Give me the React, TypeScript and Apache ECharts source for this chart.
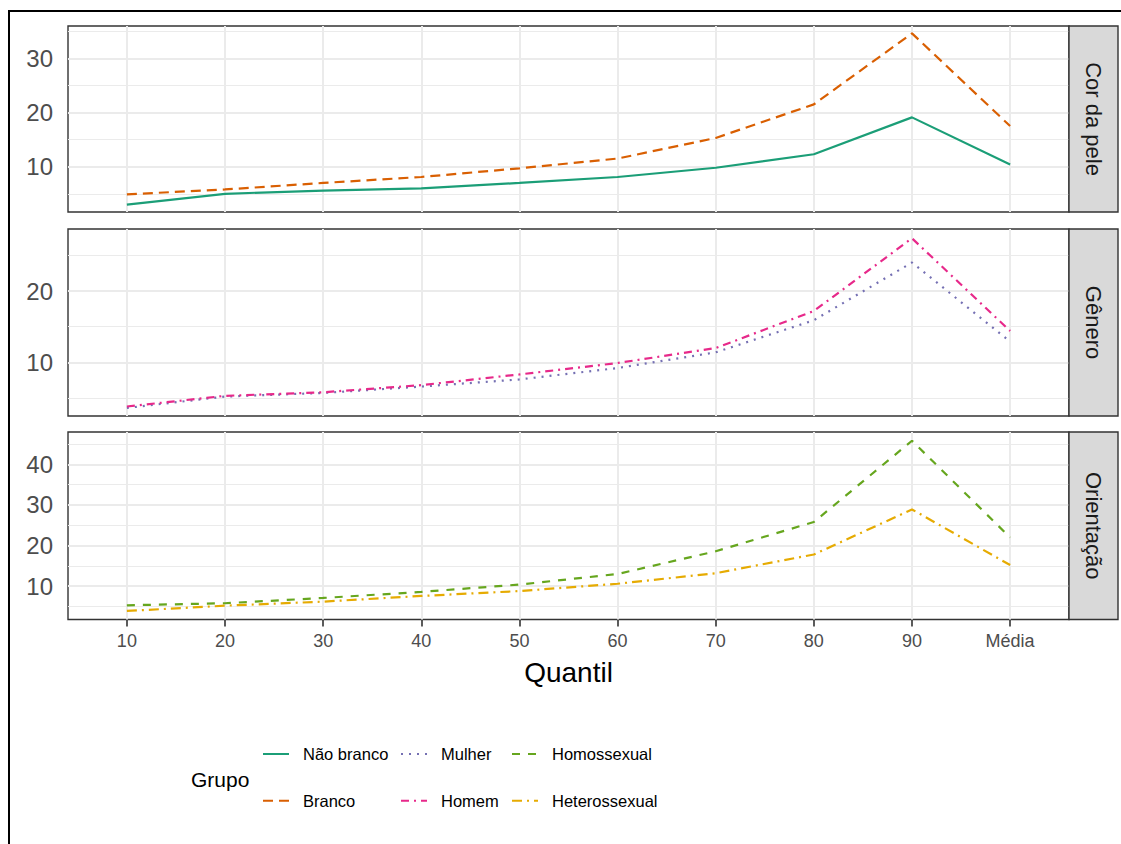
import React, { useEffect, useRef } from 'react';
import * as echarts from 'echarts';

const quantis = ['10', '20', '30', '40', '50', '60', '70', '80', '90', 'Média'];

const naoBranco = [3.0, 5.0, 5.6, 6.0, 7.0, 8.1, 9.8, 12.3, 19.1, 10.4];
const branco = [4.9, 5.8, 7.0, 8.1, 9.7, 11.5, 15.3, 21.5, 34.6, 17.5];
const mulher = [3.6, 5.2, 5.7, 6.6, 7.6, 9.2, 11.4, 15.9, 24.0, 12.9];
const homem = [3.8, 5.3, 5.8, 6.8, 8.3, 9.9, 12.0, 17.2, 27.4, 14.4];
const homossexual = [5.3, 5.8, 7.1, 8.6, 10.4, 13.0, 18.6, 25.8, 45.8, 22.0];
const heterossexual = [3.9, 5.2, 6.2, 7.6, 8.8, 10.6, 13.2, 17.8, 28.9, 15.2];

const facetas = ['Cor da pele', 'Gênero', 'Orientação'];
const majorTicks = [[10, 20, 30], [10, 20], [10, 20, 30, 40]];
const minorTicks = [[5, 15, 25, 35], [5, 15, 25], [5, 15, 25, 35, 45]];
const yRanges = [[1.64, 35.96], [2.47, 28.7], [1.8, 47.96]];

const FONT = '"Liberation Sans", Arial, Helvetica, sans-serif';

export default function App() {
  const ref = useRef<HTMLDivElement>(null);
  useEffect(() => {
    const chart = echarts.init(ref.current!, null, { renderer: 'svg' });
    const plotLeft = 68;
    const plotRight = 1069;
    const panelPos = [
      { top: 26, height: 186 },
      { top: 229, height: 187 },
      { top: 432, height: 187.5 },
    ];
    const xIdx = quantis.map((_, i) => i);
    const grids = panelPos.map((p) => ({
      left: plotLeft,
      width: plotRight - plotLeft,
      top: p.top,
      height: p.height,
      show: true,
      backgroundColor: '#ffffff',
      borderColor: '#333333',
      borderWidth: 1.4,
      z: 0,
    }));
    const xAxes = panelPos.map((_, k) => ({
      type: 'value',
      gridIndex: k,
      min: -0.6,
      max: 9.6,
      axisLine: { show: false },
      splitLine: { show: false },
      axisTick: {
        show: k === 2,
        customValues: xIdx,
        length: 7,
        lineStyle: { color: '#333333', width: 1.6 },
      },
      axisLabel: {
        show: k === 2,
        customValues: xIdx,
        formatter: (v: number) => quantis[Math.round(v)] ?? '',
        color: '#4d4d4d',
        fontSize: 18,
        fontFamily: FONT,
        margin: 12,
      },
    }));
    const yAxes = panelPos.map((_, k) => ({
      type: 'value',
      gridIndex: k,
      min: yRanges[k][0],
      max: yRanges[k][1],
      axisLine: { show: false },
      splitLine: { show: false },
      axisTick: {
        show: true,
        customValues: majorTicks[k],
        length: 7,
        lineStyle: { color: '#333333', width: 1.6 },
      },
      axisLabel: {
        show: true,
        customValues: majorTicks[k],
        color: '#4d4d4d',
        fontSize: 24,
        fontFamily: FONT,
        margin: 15,
      },
    }));
    const gridSeries = panelPos.map((_, k) => ({
      type: 'line',
      name: '__grid' + k,
      xAxisIndex: k,
      yAxisIndex: k,
      data: [],
      silent: true,
      z: 1,
      markLine: {
        silent: true,
        z: 1,
        symbol: ['none', 'none'],
        label: { show: false },
        emphasis: { disabled: true },
        lineStyle: { color: '#ebebeb', type: 'solid', width: 1 },
        data: [
          ...minorTicks[k].map((v) => ({ yAxis: v, lineStyle: { color: '#ebebeb', width: 1, type: 'solid' } })),
          ...majorTicks[k].map((v) => ({ yAxis: v, lineStyle: { color: '#ebebeb', width: 2, type: 'solid' } })),
          ...xIdx.map((v) => ({ xAxis: v, lineStyle: { color: '#ebebeb', width: 2, type: 'solid' } })),
        ],
      },
    }));
    const mk = (name: string, vals: number[], k: number, color: string, type: any) => ({
      type: 'line',
      name,
      xAxisIndex: k,
      yAxisIndex: k,
      data: vals.map((v, i) => [i, v]),
      symbol: 'none',
      showSymbol: false,
      z: 3,
      color,
      lineStyle: { color, width: 2.2, type },
      emphasis: { disabled: true },
    });
    const series = [
      ...gridSeries,
      mk('Não branco', naoBranco, 0, '#1B9E77', 'solid'),
      mk('Branco', branco, 0, '#D95F02', [10, 6]),
      mk('Mulher', mulher, 1, '#7570B3', [2, 6]),
      mk('Homem', homem, 1, '#E7298A', [8, 5, 2, 5]),
      mk('Homossexual', homossexual, 2, '#66A61E', [8, 8]),
      mk('Heterossexual', heterossexual, 2, '#E6AB02', [10, 5, 2, 5]),
    ];
    const legendBase = {
      orient: 'vertical',
      top: 745.5,
      padding: 0,
      itemWidth: 26,
      itemHeight: 17,
      itemGap: 29.7,
      selectedMode: false,
      itemStyle: { color: 'rgba(0,0,0,0)', borderColor: 'rgba(0,0,0,0)', borderWidth: 0, opacity: 0 },
      textStyle: { fontSize: 16.5, fontFamily: FONT, color: '#000', lineHeight: 17, padding: [0, 0, 0, 9] },
    };
    const legends = [
      { ...legendBase, left: 262, data: ['Não branco', 'Branco'] },
      { ...legendBase, left: 400, data: ['Mulher', 'Homem'] },
      { ...legendBase, left: 511, data: ['Homossexual', 'Heterossexual'] },
    ];
    const graphics: any[] = [];
    panelPos.forEach((p, k) => {
      graphics.push({
        type: 'rect',
        shape: { x: plotRight, y: p.top, width: 49, height: p.height },
        style: { fill: '#d9d9d9', stroke: '#333333', lineWidth: 1.4 },
        z: 10,
      });
      graphics.push({
        type: 'text',
        x: plotRight + 24.5,
        y: p.top + p.height / 2,
        rotation: -Math.PI / 2,
        style: {
          text: facetas[k],
          font: '22px ' + FONT,
          fill: '#1a1a1a',
          align: 'center',
          verticalAlign: 'middle',
        },
        z: 11,
      });
    });
    graphics.push({
      type: 'text',
      x: (plotLeft + plotRight) / 2,
      y: 672,
      style: { text: 'Quantil', font: '28px ' + FONT, fill: '#000', align: 'center', verticalAlign: 'middle' },
    });
    graphics.push({
      type: 'text',
      x: 191,
      y: 779,
      style: { text: 'Grupo', font: '21px ' + FONT, fill: '#000', align: 'left', verticalAlign: 'middle' },
    });
    graphics.push({
      type: 'polyline',
      shape: { points: [[9, 844], [9, 11], [1121, 11]] },
      style: { stroke: '#000', lineWidth: 2, fill: 'none' },
    });
    const option = {
      animation: false,
      backgroundColor: '#ffffff',
      grid: grids,
      xAxis: xAxes,
      yAxis: yAxes,
      legend: legends,
      series,
      graphic: graphics,
    };
    chart.setOption(option as any);
    return () => chart.dispose();
  }, []);
  return (
    <div
      ref={ref}
      style={{ position: 'absolute', left: 0, top: 0, width: 1121, height: 844, background: '#fff' }}
    />
  );
}
